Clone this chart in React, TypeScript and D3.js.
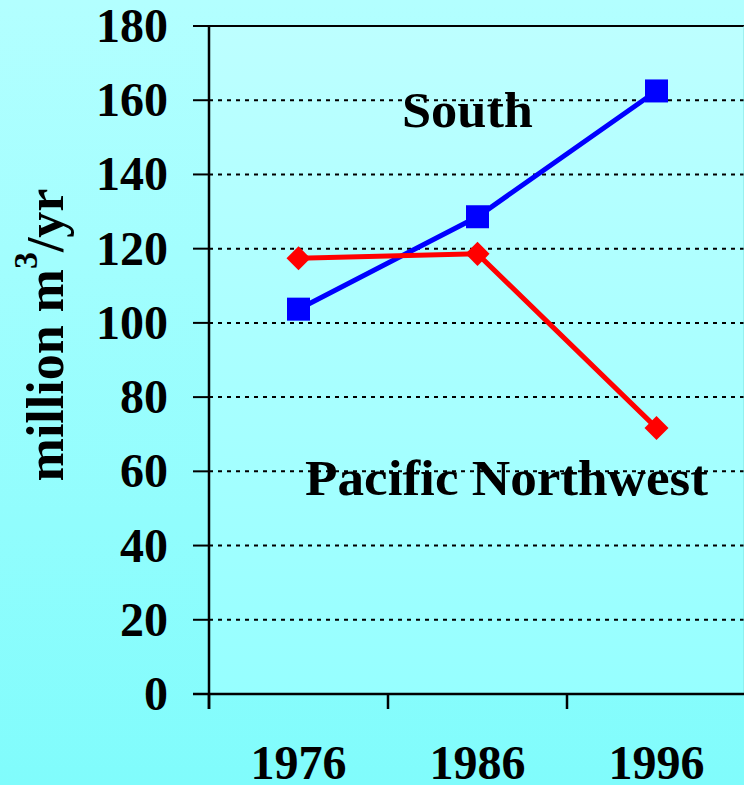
import React from "react";
import * as d3 from "d3";

const years = ["1976", "1986", "1996"];
const southValues = [103.7, 128.6, 162.5];
const pnwValues = [117.4, 118.6, 71.7];
const yTicks = [0, 20, 40, 60, 80, 100, 120, 140, 160, 180];
const gridValues = [20, 40, 60, 80, 100, 120, 140, 160];

const W = 744;
const H = 785;
const TS = { fontFamily: '"Liberation Serif"', fontWeight: "bold" as const };

export default function App() {
  const x = d3.scaleBand<string>().domain(years).range([209, 746]).padding(0);
  const y = d3.scaleLinear().domain([0, 180]).range([694, 26]);
  const cx = (yr: string) => (x(yr) as number) + x.bandwidth() / 2;

  const line = d3
    .line<number>()
    .x((_, i) => cx(years[i]))
    .y((v) => y(v));

  const bandEdges = [...years.map((yr) => x(yr) as number), 746];

  return (
    <svg width={W} height={H} style={{ position: "absolute", left: 0, top: 0, display: "block" }}>
      <defs>
        <linearGradient id="bg" x1="0" y1="0" x2="0" y2="1">
          <stop offset="0" stopColor="#b3ffff" />
          <stop offset="1" stopColor="#80fcfc" />
        </linearGradient>
        <linearGradient id="plotbg" x1="0" y1="0" x2="0" y2="1">
          <stop offset="0" stopColor="#bdffff" />
          <stop offset="1" stopColor="#96ffff" />
        </linearGradient>
      </defs>
      <rect x={0} y={0} width={W} height={H} fill="url(#bg)" />
      <rect x={209} y={26} width={746 - 209} height={694 - 26} fill="url(#plotbg)" />

      {gridValues.map((v) => (
        <line
          key={"g" + v}
          x1={209}
          x2={746}
          y1={y(v)}
          y2={y(v)}
          stroke="#000"
          strokeWidth={2}
          strokeDasharray="4,5"
        />
      ))}

      <line x1={193} x2={746} y1={y(180)} y2={y(180)} stroke="#000" strokeWidth={2} />
      <line x1={744} x2={744} y1={y(180)} y2={y(0)} stroke="#7fe0e0" strokeWidth={1} />

      <line x1={209} x2={209} y1={y(180)} y2={709} stroke="#000" strokeWidth={2.5} />
      {yTicks.map((v) => (
        <g key={"yt" + v}>
          <line x1={193} x2={209} y1={y(v)} y2={y(v)} stroke="#000" strokeWidth={2} />
          <text x={168} y={y(v) + 16} textAnchor="end" fontSize={48} fill="#000" style={TS}>
            {v}
          </text>
        </g>
      ))}

      <line x1={193} x2={746} y1={y(0)} y2={y(0)} stroke="#000" strokeWidth={2.5} />
      {bandEdges.map((e, i) => (
        <line key={"xt" + i} x1={e} x2={e} y1={y(0)} y2={709} stroke="#000" strokeWidth={2.5} />
      ))}
      {years.map((yr) => (
        <text key={"xl" + yr} x={cx(yr)} y={779} textAnchor="middle" fontSize={48} fill="#000" style={TS}>
          {yr}
        </text>
      ))}

      <text
        transform="translate(63,335) rotate(-90)"
        textAnchor="middle"
        fontSize={52}
        fill="#000"
        style={TS}
      >
        <tspan>million m</tspan>
        <tspan fontSize={34} dy={-26}>3</tspan>
        <tspan dy={26}>/yr</tspan>
      </text>

      <path d={line(southValues) || ""} fill="none" stroke="#0000ff" strokeWidth={5} />
      <path d={line(pnwValues) || ""} fill="none" stroke="#ff0000" strokeWidth={5} />

      {pnwValues.map((v, i) => (
        <rect
          key={"d" + i}
          x={-8.5}
          y={-8.5}
          width={17}
          height={17}
          fill="#ff0000"
          transform={`translate(${cx(years[i])},${y(v)}) rotate(45)`}
        />
      ))}
      {southValues.map((v, i) => (
        <rect
          key={"s" + i}
          x={cx(years[i]) - 11.5}
          y={y(v) - 11.5}
          width={23}
          height={23}
          fill="#0000ff"
        />
      ))}

      <text x={402} y={127} fontSize={51} fill="#000" style={TS} textLength={131} lengthAdjust="spacingAndGlyphs">
        South
      </text>
      <text x={305} y={495} fontSize={51} fill="#000" style={TS} textLength={403} lengthAdjust="spacingAndGlyphs">
        Pacific Northwest
      </text>
    </svg>
  );
}
